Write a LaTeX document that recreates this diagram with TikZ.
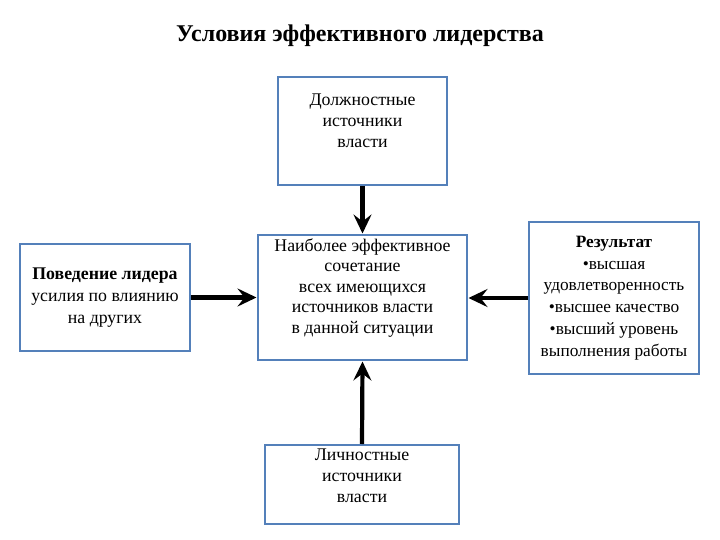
\documentclass[tikz,border=0pt]{standalone}
\usepackage{fontspec}
\setmainfont{Liberation Serif}
\usetikzlibrary{arrows.meta}
\definecolor{boxblue}{RGB}{84,128,186}
\tikzset{
  box/.style={draw=boxblue, line width=2pt, fill=white, inner sep=0pt},
  txt/.style={align=center, font=\fontsize{17.8}{21}\selectfont, inner sep=0pt},
  conn/.style={line width=4.2pt, -{Stealth[length=19pt,width=18pt,inset=7pt]}, shorten >=0.5pt}
}
\begin{document}
\begin{tikzpicture}[x=1pt,y=-1pt]
\useasboundingbox (0,0) rectangle (720,540);
\node[font=\bfseries\fontsize{24}{28}\selectfont] (title) at (360,36) {Условия эффективного лидерства};
% boxes
\node[box, minimum width=169pt, minimum height=108pt] (top) at (362.5,131) {};
\node[box, minimum width=209pt, minimum height=125pt] (center) at (362.5,297.5) {};
\node[box, minimum width=170pt, minimum height=107pt] (left) at (105,297.5) {};
\node[box, minimum width=170pt, minimum height=152pt] (right) at (614,298) {};
\node[box, minimum width=194pt, minimum height=79pt] (bottom) at (362,484.5) {};
% texts
\node[txt] (toptxt) at (362.5,121) {Должностные\\источники\\власти};
\node[txt, font=\fontsize{17.8}{20.5}\selectfont] (centertxt) at (362.5,288) {Наиболее эффективное\\сочетание\\всех имеющихся\\источников власти\\в данной ситуации};
\node[txt, font=\fontsize{17.8}{22}\selectfont] (lefttxt) at (105,298) {\textbf{Поведение лидера}\\усилия по влиянию\\на других};
\node[txt, font=\fontsize{17.3}{21.8}\selectfont] (righttxt) at (614,298) {\textbf{Результат}\\•высшая\\удовлетворенность\\•высшее качество\\•высший уровень\\выполнения работы};
\node[txt] (bottomtxt) at (362,476) {Личностные\\источники\\власти};
% connectors
\draw[conn] (top.south) -- (center.north);
\draw[conn] (bottom.north) -- (center.south);
\draw[conn] (left.east) -- (left.east -| center.west);
\draw[conn] (right.west) -- (right.west -| center.east);
\end{tikzpicture}
\end{document}
